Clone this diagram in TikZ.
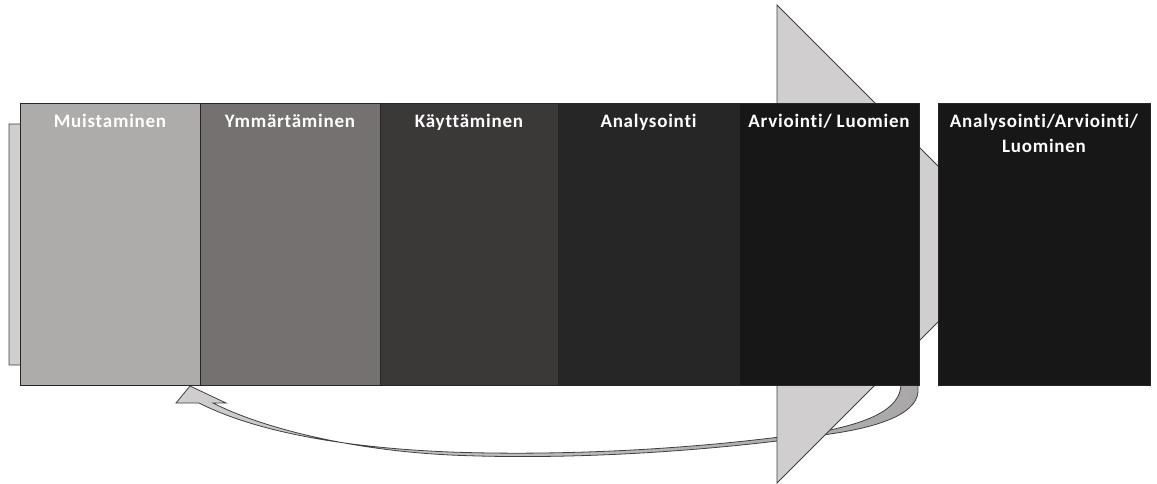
\documentclass[tikz,border=0pt]{standalone}
\usepackage{fontspec}
\setmainfont[Ligatures=NoCommon, LetterSpace=4]{Carlito}
\begin{document}
\begin{tikzpicture}[x=1pt,y=-1pt,
  stage/.style={draw=black!85, line width=0.8pt, minimum width=180pt,
    minimum height=282pt, inner sep=0pt, outer sep=0pt, anchor=north west},
  lbl/.style={text=white, font=\fontsize{19}{25}\selectfont\bfseries,
    align=center, inner sep=0pt, anchor=base},
  shapeline/.style={draw=black!75, line width=0.8pt}]
\definecolor{arrowgrey}{HTML}{D0CECE}
\definecolor{bandgrey}{HTML}{A9A7A7}
\definecolor{cA}{HTML}{AEABAB}
\definecolor{cB}{HTML}{767171}
\definecolor{cC}{HTML}{3B3838}
\definecolor{cD}{HTML}{262626}
\definecolor{cE}{HTML}{171717}
\useasboundingbox (0,0) rectangle (1157,484);

% curved return arrow (under everything else)
\path[shapeline, left color=arrowgrey, right color=bandgrey]
  (918,385) -- (918,392)
  .. controls (916,416) and (872,428) .. (830,434)
  .. controls (700,453) and (560,460) .. (450,455)
  .. controls (350,450) and (262,428) .. (213,403)
  -- (226,403) -- (190,386) -- (176,403) -- (199,403)
  .. controls (258,433) and (350,448) .. (450,452)
  .. controls (560,456) and (700,450) .. (830,430)
  .. controls (872,421) and (900,408) .. (901,385) -- cycle;

% large block arrow behind the stages
\path[shapeline, fill=arrowgrey]
  (9,124) -- (777,124) -- (777,5) -- (1016,244) -- (777,483)
  -- (777,365) -- (9,365) -- cycle;

% stage boxes
\node[stage, fill=cA] (b1) at (20,103) {};
\node[stage, fill=cB] (b2) at (200,103) {};
\node[stage, fill=cC, minimum width=178pt] (b3) at (380,103) {};
\node[stage, fill=cD, minimum width=181pt] (b4) at (558,103) {};
\node[stage, fill=cE] (b5) at (739,103) {};
\node[stage, fill=cE, minimum width=212pt] (b6) at (938,103) {};

% stage titles
\node[lbl] (t1) at ([yshift=-25pt]b1.north) {Muistaminen};
\node[lbl] (t2) at ([yshift=-25pt]b2.north) {Ymmärtäminen};
\node[lbl] (t3) at ([yshift=-25pt]b3.north) {Käyttäminen};
\node[lbl] (t4) at ([yshift=-25pt]b4.north) {Analysointi};
\node[lbl] (t5) at ([yshift=-25pt]b5.north) {Arviointi/ Luomien};
\node[lbl, anchor=north] (t6) at ([yshift=-11pt]b6.north) {Analysointi/Arviointi/\\Luominen};
\end{tikzpicture}
\end{document}
